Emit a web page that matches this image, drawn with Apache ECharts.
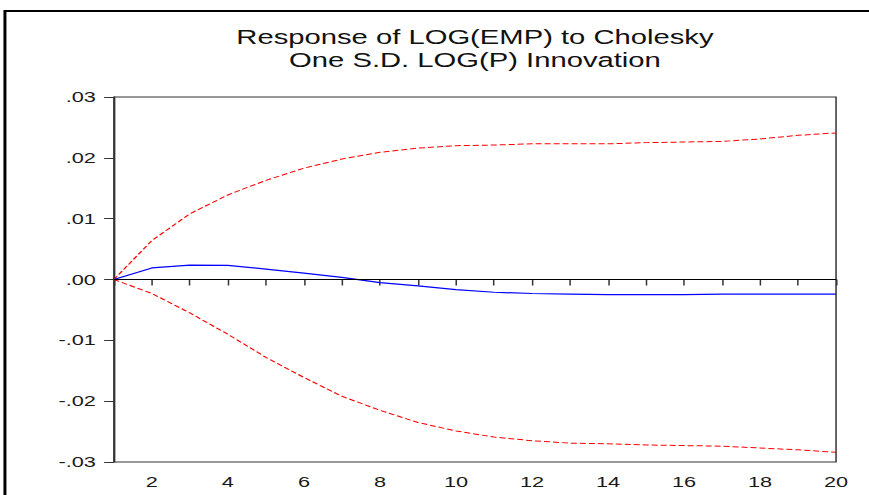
<!DOCTYPE html>
<html>
<head>
<meta charset="utf-8">
<script src="https://cdn.jsdelivr.net/npm/echarts@6/dist/echarts.min.js"></script>
<style>
  html, body { margin: 0; padding: 0; background: #fff; }
  #wrap { width: 869px; height: 495px; overflow: hidden; position: relative; background: #fff; }
  #chart { width: 580px; height: 495px; transform: scaleX(1.49828); transform-origin: 0 0; }
</style>
</head>
<body>
<div id="wrap"><div id="chart"></div></div>
<script>
// ---- data ----
const periods = ['1','2','3','4','5','6','7','8','9','10','11','12','13','14','15','16','17','18','19','20'];
const response = [0, 0.0019, 0.00235, 0.00232, 0.0017, 0.00105, 0.00035, -0.0005, -0.00105, -0.00165,
                  -0.0021, -0.0023, -0.0024, -0.0025, -0.0025, -0.0025, -0.0024, -0.0024, -0.0024, -0.0024];
const upperBand = [0, 0.0064, 0.0108, 0.0139, 0.0163, 0.0183, 0.0198, 0.0209, 0.0216, 0.0220,
                   0.0221, 0.0223, 0.0223, 0.0223, 0.0225, 0.0226, 0.0227, 0.0231, 0.0237, 0.0241];
const lowerBand = [0, -0.0023, -0.0055, -0.0090, -0.0128, -0.0161, -0.0192, -0.0215, -0.0235, -0.0249,
                   -0.0259, -0.0265, -0.0269, -0.0270, -0.0272, -0.0273, -0.0274, -0.0277, -0.0280, -0.0284];
const yTickValues = [-0.03, -0.02, -0.01, 0, 0.01, 0.02, 0.03];
const yTickLabels = ['-.03', '-.02', '-.01', '.00', '.01', '.02', '.03'];
const titleLines = ['Response of LOG(EMP) to Cholesky', 'One S.D. LOG(P) Innovation'];

const FONT = '"Liberation Sans", Arial, sans-serif';
const chart = echarts.init(document.getElementById('chart'), null, { renderer: 'svg' });

const option = {
  animation: false,
  backgroundColor: '#fff',
  graphic: [
    { type: 'rect', silent: true, z: 0,
      shape: { x: 3.3, y: 11, width: 800, height: 700 },
      style: { fill: 'none', stroke: '#000', lineWidth: 2 } },
    { type: 'text', silent: true, x: 317, y: 37,
      style: { text: titleLines[0], font: '19.5px ' + FONT, fill: '#111', textAlign: 'center', textVerticalAlign: 'middle' } },
    { type: 'text', silent: true, x: 317, y: 60,
      style: { text: titleLines[1], font: '19.5px ' + FONT, fill: '#111', textAlign: 'center', textVerticalAlign: 'middle' } }
  ],
  grid: { left: 76, right: 22, top: 97, bottom: 33, show: true, borderColor: '#333', borderWidth: 1, backgroundColor: 'transparent' },
  xAxis: {
    type: 'category',
    data: periods,
    boundaryGap: false,
    axisLine: { show: true, lineStyle: { color: '#333', width: 1 } },
    axisTick: { show: true, interval: 0, length: 6, lineStyle: { color: '#333' } },
    axisLabel: {
      interval: function (i) { return i % 2 === 1; },
      margin: 12, fontSize: 14.5, fontFamily: FONT, color: '#1a1a1a'
    },
    splitLine: { show: false }
  },
  yAxis: {
    type: 'value',
    min: -0.03, max: 0.03, interval: 0.01,
    axisLine: { show: true, lineStyle: { color: '#333', width: 1 } },
    axisTick: { show: true, length: 6.5, lineStyle: { color: '#333' } },
    axisLabel: {
      margin: 12, fontSize: 14.5, fontFamily: FONT, color: '#1a1a1a',
      formatter: function (v) {
        const i = yTickValues.findIndex(function (t) { return Math.abs(t - v) < 1e-9; });
        return i >= 0 ? yTickLabels[i] : '';
      }
    },
    splitLine: { show: false }
  },
  series: [
    { name: 'upper', type: 'line', data: upperBand, symbol: 'none', silent: true,
      lineStyle: { color: '#ff0000', width: 1, type: [4, 2] }, z: 3 },
    { name: 'lower', type: 'line', data: lowerBand, symbol: 'none', silent: true,
      lineStyle: { color: '#ff0000', width: 1, type: [4, 2] }, z: 3 },
    { name: 'response', type: 'line', data: response, symbol: 'none', silent: true,
      lineStyle: { color: '#0000ff', width: 1.2 }, z: 4,
      markLine: { silent: true, symbol: 'none', label: { show: false },
        lineStyle: { color: '#000', width: 1, type: 'solid' },
        data: [{ yAxis: 0 }], z: 5 } }
  ]
};
chart.setOption(option);
</script>
</body>
</html>
